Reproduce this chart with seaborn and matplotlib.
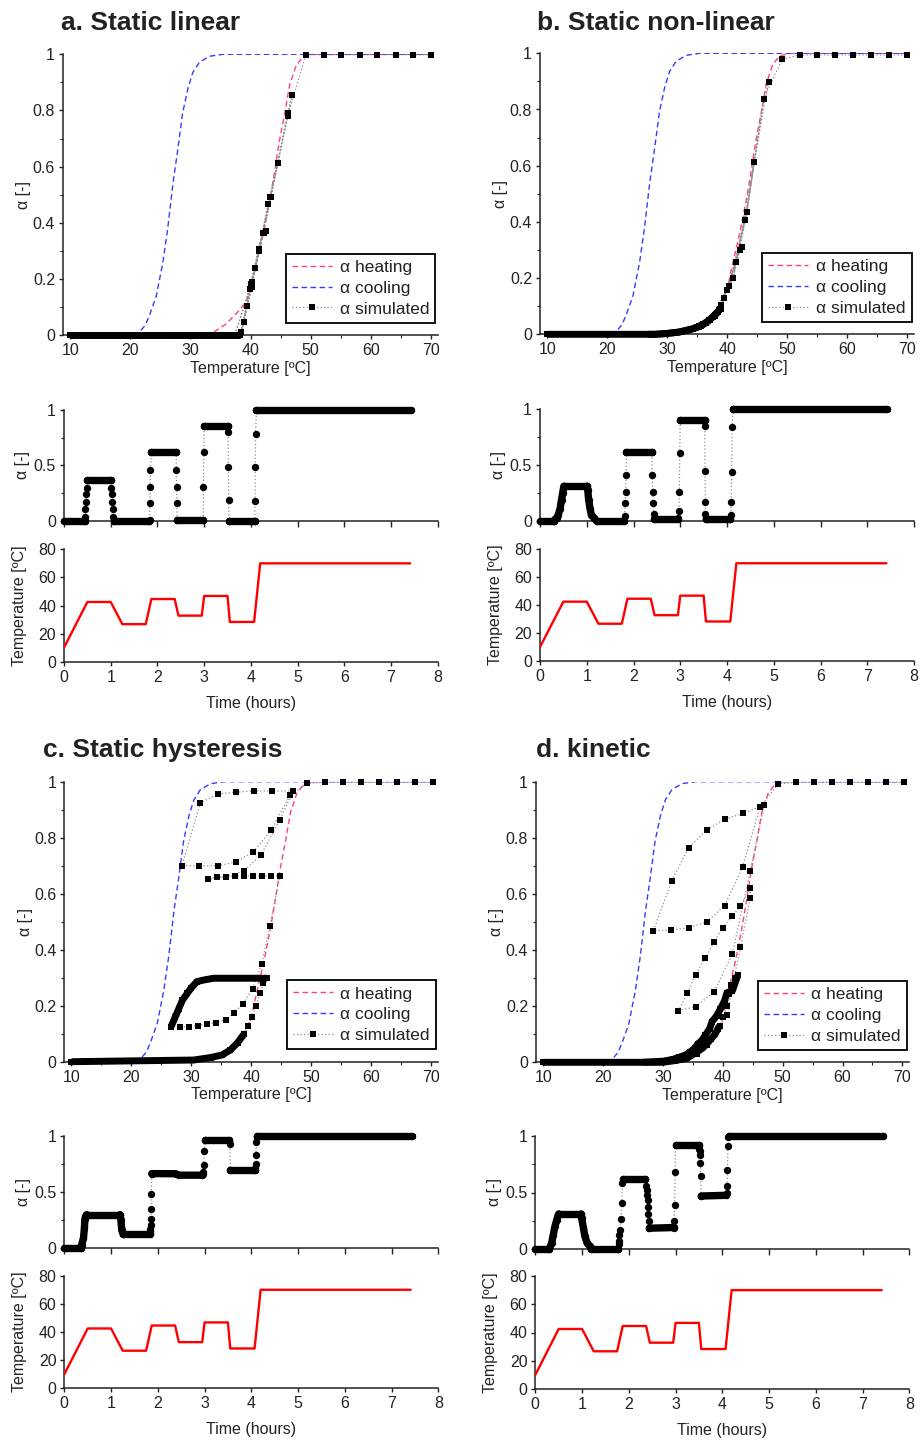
import matplotlib
matplotlib.use("Agg")
import matplotlib.pyplot as plt
import seaborn as sns
from matplotlib.lines import Line2D
from matplotlib.ticker import MultipleLocator

# ---------------- data ----------------
# equilibrium curves (shared by all four panels)
heat_T = [10, 32.5, 34, 36, 38, 39.3, 40.0, 40.9, 42.1, 43.2, 44.0, 44.8, 45.7, 46.5, 47.6, 48.7, 50.4, 70]
heat_a = [0, 0, 0.012, 0.04, 0.085, 0.12, 0.16, 0.25, 0.36, 0.48, 0.58, 0.69, 0.79, 0.89, 0.96, 0.99, 1.0, 1.0]
cool_T = [10, 20.5, 21.5, 22.5, 23.2, 24.3, 25.4, 26.2, 27.1, 27.9, 28.7, 29.6, 30.4, 31.5, 33.2, 35.4, 70]
cool_a = [0, 0, 0.01, 0.035, 0.071, 0.137, 0.256, 0.375, 0.541, 0.66, 0.79, 0.88, 0.935, 0.972, 0.993, 1.0, 1.0]

# temperature programme (same in all panels)
prof_t = [0, 0.5, 1.0, 1.25, 1.75, 1.87, 2.37, 2.45, 2.95, 3.0, 3.5, 3.55, 4.07, 4.2, 7.41]
prof_T = [10, 42.5, 42.5, 26.7, 26.7, 44.6, 44.6, 32.8, 32.8, 46.8, 46.8, 28.3, 28.3, 70, 70]

# ---- panel a: static linear ----
A_T = [[10, 38.2], [38.2, 38.9, 39.5, 40.2, 40.8, 41.4, 42.1, 42.5],
       [42.5, 42.1, 41.4, 40.8, 40.2, 39.5, 38.9, 38.2], [38.2, 26.7],
       [26.7, 28.4, 30.1, 31.8, 33.5, 35.2, 36.9, 38.5, 39.9, 41.4, 42.9, 44.6],
       [44.6, 43.4, 42.2, 40.8, 39.9, 38.4, 32.8], [32.8, 35.6, 38.4, 41.4, 44.6, 46.9],
       [46.9, 46.2, 43.3, 40.3, 37.4, 34.4, 31.3, 28.3],
       [28.3, 31.3, 34.4, 37.4, 40.0, 43.3, 46.2, 49.2, 52.2, 55.1, 58.2, 61.1, 64.2, 67.1, 70.0]]
A_aT = [[0, 0], [0, 0.045, 0.105, 0.17, 0.238, 0.30, 0.365, 0.37],
        [0.37, 0.365, 0.30, 0.238, 0.17, 0.105, 0.045, 0], [0, 0],
        [0, 0, 0, 0, 0, 0, 0, 0.01, 0.163, 0.305, 0.467, 0.614],
        [0.614, 0.49, 0.365, 0.238, 0.163, 0.01, 0], [0, 0, 0.01, 0.305, 0.614, 0.855],
        [0.855, 0.79, 0.49, 0.19, 0, 0, 0, 0],
        [0, 0, 0, 0, 0.18, 0.49, 0.78, 0.998, 0.998, 0.998, 0.998, 0.998, 0.998, 0.998, 0.998]]
A_T_dense = [1, 0, 0, 1, 0, 0, 0, 0, 0]
A_t = [[0, 0.44], [0.44, 0.45, 0.46, 0.47, 0.48, 0.49, 0.5], [0.5, 1.0],
       [1.0, 1.01, 1.02, 1.03, 1.04, 1.05, 1.06], [1.06, 1.83],
       [1.83, 1.835, 1.84, 1.845, 1.85, 1.87], [1.87, 2.40],
       [2.40, 2.405, 2.41, 2.415, 2.42], [2.42, 2.98], [2.98, 2.985, 2.99, 3.0],
       [3.0, 3.51], [3.51, 3.515, 3.52, 3.525, 3.53], [3.53, 4.08],
       [4.08, 4.09, 4.095, 4.10, 4.12], [4.12, 7.42]]
A_at = [[0, 0], [0, 0.04, 0.105, 0.17, 0.24, 0.30, 0.365], [0.37, 0.37],
        [0.37, 0.30, 0.24, 0.17, 0.105, 0.04, 0.0], [0, 0],
        [0.0, 0.01, 0.16, 0.31, 0.46, 0.62], [0.62, 0.62],
        [0.62, 0.46, 0.31, 0.16, 0.01], [0.01, 0.01], [0.01, 0.31, 0.62, 0.86],
        [0.86, 0.86], [0.86, 0.80, 0.49, 0.19, 0.0], [0, 0],
        [0, 0.18, 0.49, 0.78, 1.0], [1.0, 1.0]]
A_t_dense = [1, 0, 1, 0, 1, 0, 1, 0, 1, 0, 1, 0, 1, 0, 1]

# ---- panel b: static non-linear ----
B_T = [[10, 28, 30, 32, 34, 35, 36, 37, 38, 38.5],
       [38.5, 39.0, 39.5, 39.9, 40.3, 41.0, 41.5, 42.1, 42.5],
       [42.5, 42.1, 41.5, 41.0, 40.3, 39.9, 39.5, 39.0, 38.5],
       [38.5, 38, 37, 36, 35, 34, 32, 30, 28, 26.7],
       [26.7, 28.5, 30.3, 32.1, 33.9, 35.6, 37.2, 38.6, 40.0, 41.5, 43.0, 44.5],
       [44.5, 43.3, 42.1, 41.0, 39.9, 38.8, 37.6, 36.5, 35.3, 34.2, 32.8],
       [32.8, 35.6, 38.9, 41.5, 44.5, 46.9],
       [46.9, 46.1, 43.3, 40.3, 38.0, 35.3, 31.8, 28.3],
       [28.3, 31.3, 34.3, 37.0, 40.3, 43.3, 46.1, 49.2, 52.1, 55, 58, 61, 64, 67, 70]]
B_aT = [[0, 0, 0.003, 0.008, 0.018, 0.025, 0.035, 0.05, 0.07, 0.08],
        [0.08, 0.104, 0.13, 0.158, 0.172, 0.2, 0.259, 0.30, 0.31],
        [0.31, 0.30, 0.259, 0.2, 0.172, 0.158, 0.13, 0.104, 0.08],
        [0.08, 0.07, 0.05, 0.035, 0.025, 0.018, 0.008, 0.003, 0, 0],
        [0, 0, 0.004, 0.008, 0.02, 0.03, 0.05, 0.085, 0.158, 0.259, 0.407, 0.613],
        [0.613, 0.437, 0.30, 0.2, 0.158, 0.09, 0.06, 0.04, 0.028, 0.02, 0.01],
        [0.01, 0.03, 0.09, 0.259, 0.613, 0.899],
        [0.899, 0.839, 0.437, 0.172, 0.065, 0.025, 0.008, 0],
        [0, 0.005, 0.018, 0.05, 0.172, 0.437, 0.839, 0.979, 0.994, 0.994, 0.994, 0.994, 0.994, 0.994, 0.994]]
B_T_dense = [1, 0, 0, 1, 0, 0, 0, 0, 0]
B_t = [[0, 0.30], [0.30, 0.32, 0.36, 0.39, 0.43, 0.46, 0.485, 0.51], [0.51, 1.0],
       [1.0, 1.02, 1.04, 1.07, 1.10, 1.16, 1.21], [1.21, 1.80],
       [1.80, 1.81, 1.82, 1.83, 1.84, 1.85], [1.85, 2.39],
       [2.39, 2.40, 2.41, 2.42, 2.43, 2.44], [2.44, 2.96],
       [2.96, 2.97, 2.98, 2.99, 3.0], [3.0, 3.52],
       [3.52, 3.525, 3.53, 3.535, 3.54, 3.545, 3.55], [3.55, 4.06],
       [4.06, 4.08, 4.09, 4.10, 4.11, 4.13], [4.13, 7.43]]
B_at = [[0, 0], [0, 0.015, 0.03, 0.054, 0.11, 0.19, 0.25, 0.31], [0.31, 0.31],
        [0.31, 0.28, 0.19, 0.11, 0.054, 0.024, 0.0], [0, 0],
        [0.01, 0.048, 0.158, 0.26, 0.41, 0.616], [0.616, 0.616],
        [0.616, 0.41, 0.26, 0.158, 0.06, 0.02], [0.02, 0.02],
        [0.03, 0.09, 0.26, 0.61, 0.905], [0.905, 0.905],
        [0.905, 0.85, 0.45, 0.17, 0.06, 0.03, 0.02], [0.02, 0.02],
        [0.02, 0.05, 0.17, 0.44, 0.84, 1.0], [1.0, 1.0]]
B_t_dense = [1, 1, 1, 1, 1, 0, 1, 0, 1, 0, 1, 0, 1, 0, 1]

# ---- panel c: static hysteresis ----
C_T = [[10, 30.4, 33.2, 35.1, 36.5, 37.7, 38.8],
       [38.8, 39.4, 40.1, 40.8, 41.4, 42.0, 42.6],
       [42.6, 33.7, 32.1, 30.9, 29.9, 29.3, 28.5, 27.9, 27.3, 26.6],
       [26.6, 28.1, 29.6, 31.1, 32.6, 34.1, 35.7, 37.1, 38.6, 40.2, 41.7, 43.1, 44.7],
       [44.7, 43.2, 41.7, 40.2, 38.7, 37.2, 35.7, 34.2, 32.7],
       [32.7, 35.7, 38.7, 41.6, 44.7, 47.0],
       [47.0, 43.5, 40.5, 37.5, 34.4, 31.5, 28.4],
       [28.4, 31.3, 34.5, 37.5, 40.3, 43.3, 46.4, 49.3, 52.2, 55.2, 58.2, 61.2, 64.2, 67.2, 70.2]]
C_aT = [[0, 0.006, 0.015, 0.024, 0.042, 0.068, 0.1],
        [0.1, 0.127, 0.16, 0.2, 0.246, 0.28, 0.298],
        [0.298, 0.298, 0.292, 0.286, 0.262, 0.244, 0.22, 0.19, 0.16, 0.125],
        [0.125, 0.125, 0.125, 0.129, 0.135, 0.14, 0.15, 0.174, 0.207, 0.261, 0.349, 0.484, 0.664],
        [0.664, 0.664, 0.664, 0.664, 0.664, 0.664, 0.66, 0.66, 0.651],
        [0.651, 0.66, 0.681, 0.738, 0.863, 0.967],
        [0.967, 0.967, 0.967, 0.963, 0.956, 0.925, 0.70],
        [0.70, 0.70, 0.70, 0.714, 0.749, 0.827, 0.951, 0.994, 0.998, 0.998, 0.998, 0.998, 0.998, 0.998, 0.998]]
C_T_dense = [1, 0, 1, 0, 0, 0, 0, 0]
C_t = [[0, 0.35], [0.35, 0.37, 0.41, 0.43, 0.44, 0.46, 0.48], [0.48, 1.19],
       [1.19, 1.21, 1.23, 1.26], [1.26, 1.83],
       [1.83, 1.835, 1.84, 1.845, 1.85, 1.855, 1.86, 1.87],
       [1.87, 2.38, 2.45, 2.95], [2.95, 2.96, 2.97, 2.98, 2.99, 3.0], [3.0, 3.52],
       [3.52, 3.53, 3.54, 3.55], [3.55, 4.07],
       [4.07, 4.08, 4.09, 4.10, 4.11, 4.12, 4.13], [4.13, 7.43]]
C_at = [[0, 0], [0, 0.03, 0.09, 0.18, 0.26, 0.29, 0.30], [0.30, 0.30],
        [0.30, 0.255, 0.16, 0.125], [0.125, 0.125],
        [0.135, 0.15, 0.175, 0.207, 0.261, 0.349, 0.484, 0.664],
        [0.665, 0.664, 0.651, 0.651], [0.651, 0.66, 0.681, 0.738, 0.863, 0.967],
        [0.967, 0.967], [0.963, 0.956, 0.925, 0.70], [0.70, 0.70],
        [0.70, 0.714, 0.749, 0.827, 0.951, 0.994, 1.0], [1.0, 1.0]]
C_t_dense = [1, 1, 1, 1, 1, 0, 1, 0, 1, 0, 1, 0, 1]

# ---- panel d: kinetic ----
D_T = [[10, 30, 32, 34, 35.7, 36.6, 37.3, 38.0, 38.7, 39.45],
       [39.45, 40.1, 40.7, 41.1, 41.4, 42.1, 42.5],
       [42.5, 41.6, 40.7, 40.3, 39.6, 38.95, 38.2, 37.8, 37.1, 36.45, 35.8, 35.3, 34.6, 33.8, 32.7, 31.6, 30, 26.7],
       [26.7, 28.5, 30.3, 32.1, 33.9, 35.7, 37.4, 39.2, 40.7, 41.6, 42.95, 44.6, 44.6],
       [44.6, 42.95, 41.6, 39.95, 38.6, 37.1, 35.45, 34.1, 32.6],
       [32.6, 35.45, 38.6, 41.6, 44.6, 46.95],
       [46.95, 43.45, 40.45, 37.3, 34.3, 31.45, 28.4],
       [28.4, 31.3, 34.3, 37.3, 40.3, 43.3, 46.2, 49.3, 52.2, 55.2, 58.2, 61.2, 64.2, 67.2, 70.2]]
D_aT = [[0, 0, 0.006, 0.014, 0.037, 0.05, 0.065, 0.082, 0.1, 0.13],
        [0.13, 0.16, 0.2, 0.245, 0.275, 0.302, 0.31],
        [0.31, 0.255, 0.248, 0.22, 0.19, 0.165, 0.145, 0.12, 0.097, 0.077, 0.065, 0.05, 0.038, 0.026, 0.018, 0.01, 0.004, 0],
        [0, 0, 0.003, 0.008, 0.015, 0.03, 0.06, 0.12, 0.168, 0.268, 0.41, 0.587, 0.62],
        [0.62, 0.558, 0.521, 0.48, 0.43, 0.373, 0.312, 0.248, 0.184],
        [0.184, 0.198, 0.252, 0.387, 0.683, 0.917],
        [0.917, 0.888, 0.867, 0.828, 0.765, 0.646, 0.469],
        [0.469, 0.471, 0.48, 0.5, 0.558, 0.696, 0.909, 0.992, 0.998, 0.998, 0.998, 0.998, 0.998, 0.998, 0.998]]
D_T_dense = [1, 0, 1, 0, 0, 0, 0, 0]
D_t = [[0, 0.30], [0.30, 0.35, 0.385, 0.42, 0.46, 0.49, 0.5], [0.5, 0.98],
       [0.98, 0.99, 1.03, 1.06, 1.11, 1.17, 1.2], [1.2, 1.77],
       [1.77, 1.78, 1.79, 1.80, 1.81, 1.83, 1.85, 1.86, 1.87], [1.87, 2.35],
       [2.35, 2.37, 2.38, 2.39, 2.40, 2.41, 2.42, 2.43, 2.44], [2.44, 2.96],
       [2.96, 2.97, 2.98, 2.99, 3.0], [3.0, 3.50],
       [3.50, 3.51, 3.515, 3.52, 3.53, 3.54, 3.55], [3.55, 4.08],
       [4.08, 4.09, 4.10, 4.11, 4.12, 4.13, 4.14], [4.14, 7.44]]
D_at = [[0, 0], [0, 0.053, 0.127, 0.2, 0.26, 0.30, 0.31], [0.31, 0.31],
        [0.31, 0.274, 0.186, 0.112, 0.053, 0.024, 0.0], [0, 0],
        [0.0, 0.04, 0.068, 0.12, 0.168, 0.268, 0.41, 0.587, 0.62], [0.62, 0.62],
        [0.62, 0.558, 0.521, 0.48, 0.43, 0.373, 0.312, 0.248, 0.184], [0.184, 0.19],
        [0.198, 0.252, 0.387, 0.683, 0.917], [0.917, 0.917],
        [0.917, 0.888, 0.867, 0.828, 0.765, 0.646, 0.469], [0.469, 0.475],
        [0.475, 0.5, 0.558, 0.696, 0.909, 0.992, 1.0], [1.0, 1.0]]
D_t_dense = [1, 1, 1, 1, 1, 0, 1, 0, 1, 0, 1, 0, 1, 0, 1]

titles = ["a. Static linear", "b. Static non-linear", "c. Static hysteresis", "d. kinetic"]
legend_labels = ["α heating", "α cooling", "α simulated"]
alpha_ticks = [0, 0.2, 0.4, 0.6, 0.8, 1]
alpha_ticks_small = [0, 0.5, 1]
temp_axis_ticks = [10, 20, 30, 40, 50, 60, 70]
time_ticks = [0, 1, 2, 3, 4, 5, 6, 7, 8]
temp_ticks = [0, 20, 40, 60, 80]

# ---------------- styling ----------------
sns.set_theme(style="ticks")
plt.rcParams["font.family"] = ["Liberation Sans", "DejaVu Sans"]
plt.rcParams["axes.unicode_minus"] = False

HEAT_C = "#ff3d8b"
COOL_C = "#3a3aff"
TXT = "#222222"
SQ = 5.0      # square marker size (pt)
CI = 5.3      # circle marker size (pt)
FS = 11.5
W, H = 921, 1440
fig = plt.figure(figsize=(W / 100, H / 100), dpi=100)


def add_ax(l, r, t, b):
    return fig.add_axes([l / W, 1 - b / H, (r - l) / W, (b - t) / H])


def style(ax):
    for s in ["top", "right"]:
        ax.spines[s].set_visible(False)
    for s in ["left", "bottom"]:
        ax.spines[s].set_linewidth(1.1)
        ax.spines[s].set_color(TXT)
    ax.tick_params(which="major", direction="out", length=3.2, width=1.0,
                   labelsize=FS, pad=2.5, color=TXT, labelcolor=TXT)
    ax.tick_params(which="minor", direction="out", length=2.0, width=0.8, color=TXT)
    ax.grid(False)
    ax.set_facecolor("white")


def draw_sim(ax, xs, ys, dense, marker, ms, cap):
    px = [v for run in xs for v in run]
    py = [v for run in ys for v in run]
    sns.lineplot(x=px, y=py, ax=ax, sort=False, estimator=None, color="#8f8f8f",
                 lw=0.9, linestyle=(0, (1, 1.8)), zorder=3, clip_on=False)
    for x, y, d in zip(xs, ys, dense):
        if d:
            ax.plot(x, y, color="black", lw=ms, solid_capstyle=cap,
                    solid_joinstyle="round", zorder=4, clip_on=False)
        ax.plot(x, y, ls="none", marker=marker, ms=ms, color="black", mew=0,
                zorder=5, clip_on=False)


def alphaT_panel(rect, T_runs, a_runs, dense, label_x):
    ax = add_ax(*rect)
    style(ax)
    sns.lineplot(x=heat_T, y=heat_a, ax=ax, sort=False, estimator=None, color=HEAT_C,
                 lw=1.0, linestyle=(0, (4, 2.5)), zorder=2)
    sns.lineplot(x=cool_T, y=cool_a, ax=ax, sort=False, estimator=None, color=COOL_C,
                 lw=1.0, linestyle=(0, (4, 2.5)), zorder=2)
    draw_sim(ax, T_runs, a_runs, dense, "s", SQ, "butt")
    ax.set_xlim(8.8, 71.15)
    ax.set_ylim(0, 1)
    ax.set_xticks(temp_axis_ticks)
    ax.set_xticklabels([f"{v:g}" for v in temp_axis_ticks])
    ax.xaxis.set_minor_locator(MultipleLocator(5))
    ax.set_yticks(alpha_ticks)
    ax.set_yticklabels([f"{v:g}" for v in alpha_ticks])
    ax.yaxis.set_minor_locator(MultipleLocator(0.1))
    ax.set_xlabel("Temperature [ºC]", fontsize=FS, color=TXT, labelpad=2)
    ax.set_ylabel("α [-]", fontsize=FS, color=TXT)
    ax.yaxis.set_label_coords(label_x, 0.5)
    handles = [Line2D([], [], color=HEAT_C, lw=1.0, ls=(0, (4, 2.5))),
               Line2D([], [], color=COOL_C, lw=1.0, ls=(0, (4, 2.5))),
               Line2D([], [], color="#8f8f8f", lw=0.9, ls=(0, (1, 1.8)), marker="s",
                      ms=SQ, mfc="black", mec="black", mew=0)]
    leg = ax.legend(handles, legend_labels, loc="lower right", bbox_to_anchor=(0.994, 0.044),
                    borderaxespad=0, frameon=True, fancybox=False, edgecolor="black",
                    framealpha=1, fontsize=12.5, handlelength=2.3, handletextpad=0.45,
                    labelspacing=0.33, borderpad=0.35)
    leg.get_frame().set_linewidth(1.3)
    for t in leg.get_texts():
        t.set_color(TXT)
    return ax


def alpha_time_panel(rect, t_runs, a_runs, dense, label_x):
    ax = add_ax(*rect)
    style(ax)
    draw_sim(ax, t_runs, a_runs, dense, "o", CI, "round")
    ax.set_xlim(0, 8)
    ax.set_ylim(0, 1)
    ax.set_xticks(time_ticks)
    ax.tick_params(axis="x", labelbottom=False, length=4)
    ax.set_yticks(alpha_ticks_small)
    ax.set_yticklabels([f"{v:g}" for v in alpha_ticks_small])
    ax.yaxis.set_minor_locator(MultipleLocator(0.25))
    ax.set_xlabel("")
    ax.set_ylabel("α [-]", fontsize=FS, color=TXT)
    ax.yaxis.set_label_coords(label_x, 0.5)
    return ax


def temp_panel(rect, label_x):
    ax = add_ax(*rect)
    style(ax)
    sns.lineplot(x=prof_t, y=prof_T, ax=ax, sort=False, estimator=None, color="#ff0000",
                 lw=1.7, zorder=3)
    ax.set_xlim(0, 8)
    ax.set_ylim(0, 80)
    ax.set_xticks(time_ticks)
    ax.set_xticklabels([f"{v:g}" for v in time_ticks])
    ax.set_yticks(temp_ticks)
    ax.set_yticklabels([f"{v:g}" for v in temp_ticks])
    ax.set_xlabel("Time (hours)", fontsize=FS, color=TXT, labelpad=8)
    ax.set_ylabel("Temperature [ºC]", fontsize=FS, color=TXT)
    ax.yaxis.set_label_coords(label_x, 0.5)
    return ax


# ---------------- layout (pixel boxes: left, right, top, bottom) ----------------
alphaT_panel((63, 437.7, 54.3, 335), A_T, A_aT, A_T_dense, -0.085)
alpha_time_panel((64, 437.7, 410, 521), A_t, A_at, A_t_dense, -0.09)
temp_panel((64, 437.7, 549.3, 661.7), -0.10)

alphaT_panel((540, 914, 53.3, 334.3), B_T, B_aT, B_T_dense, -0.085)
alpha_time_panel((540, 914, 409, 521), B_t, B_at, B_t_dense, -0.09)
temp_panel((540, 914, 549.3, 661), -0.10)

alphaT_panel((64.3, 438.3, 781.7, 1061.7), C_T, C_aT, C_T_dense, -0.085)
alpha_time_panel((64.3, 438.3, 1136, 1248.3), C_t, C_at, C_t_dense, -0.09)
temp_panel((64.3, 438.3, 1275.7, 1388.3), -0.10)

alphaT_panel((536, 909.3, 781.7, 1062.3), D_T, D_aT, D_T_dense, -0.085)
alpha_time_panel((535.3, 909.3, 1136, 1249), D_t, D_at, D_t_dense, -0.09)
temp_panel((535.3, 909.3, 1276, 1389), -0.10)

title_pos = [(61, 30), (537, 30), (43, 757), (536, 757)]
for txt, (x, y) in zip(titles, title_pos):
    fig.text(x / W, 1 - y / H, txt, fontsize=19, fontweight="bold", color=TXT,
             va="baseline", ha="left")

fig.savefig("out.png", dpi=100, facecolor="white")
